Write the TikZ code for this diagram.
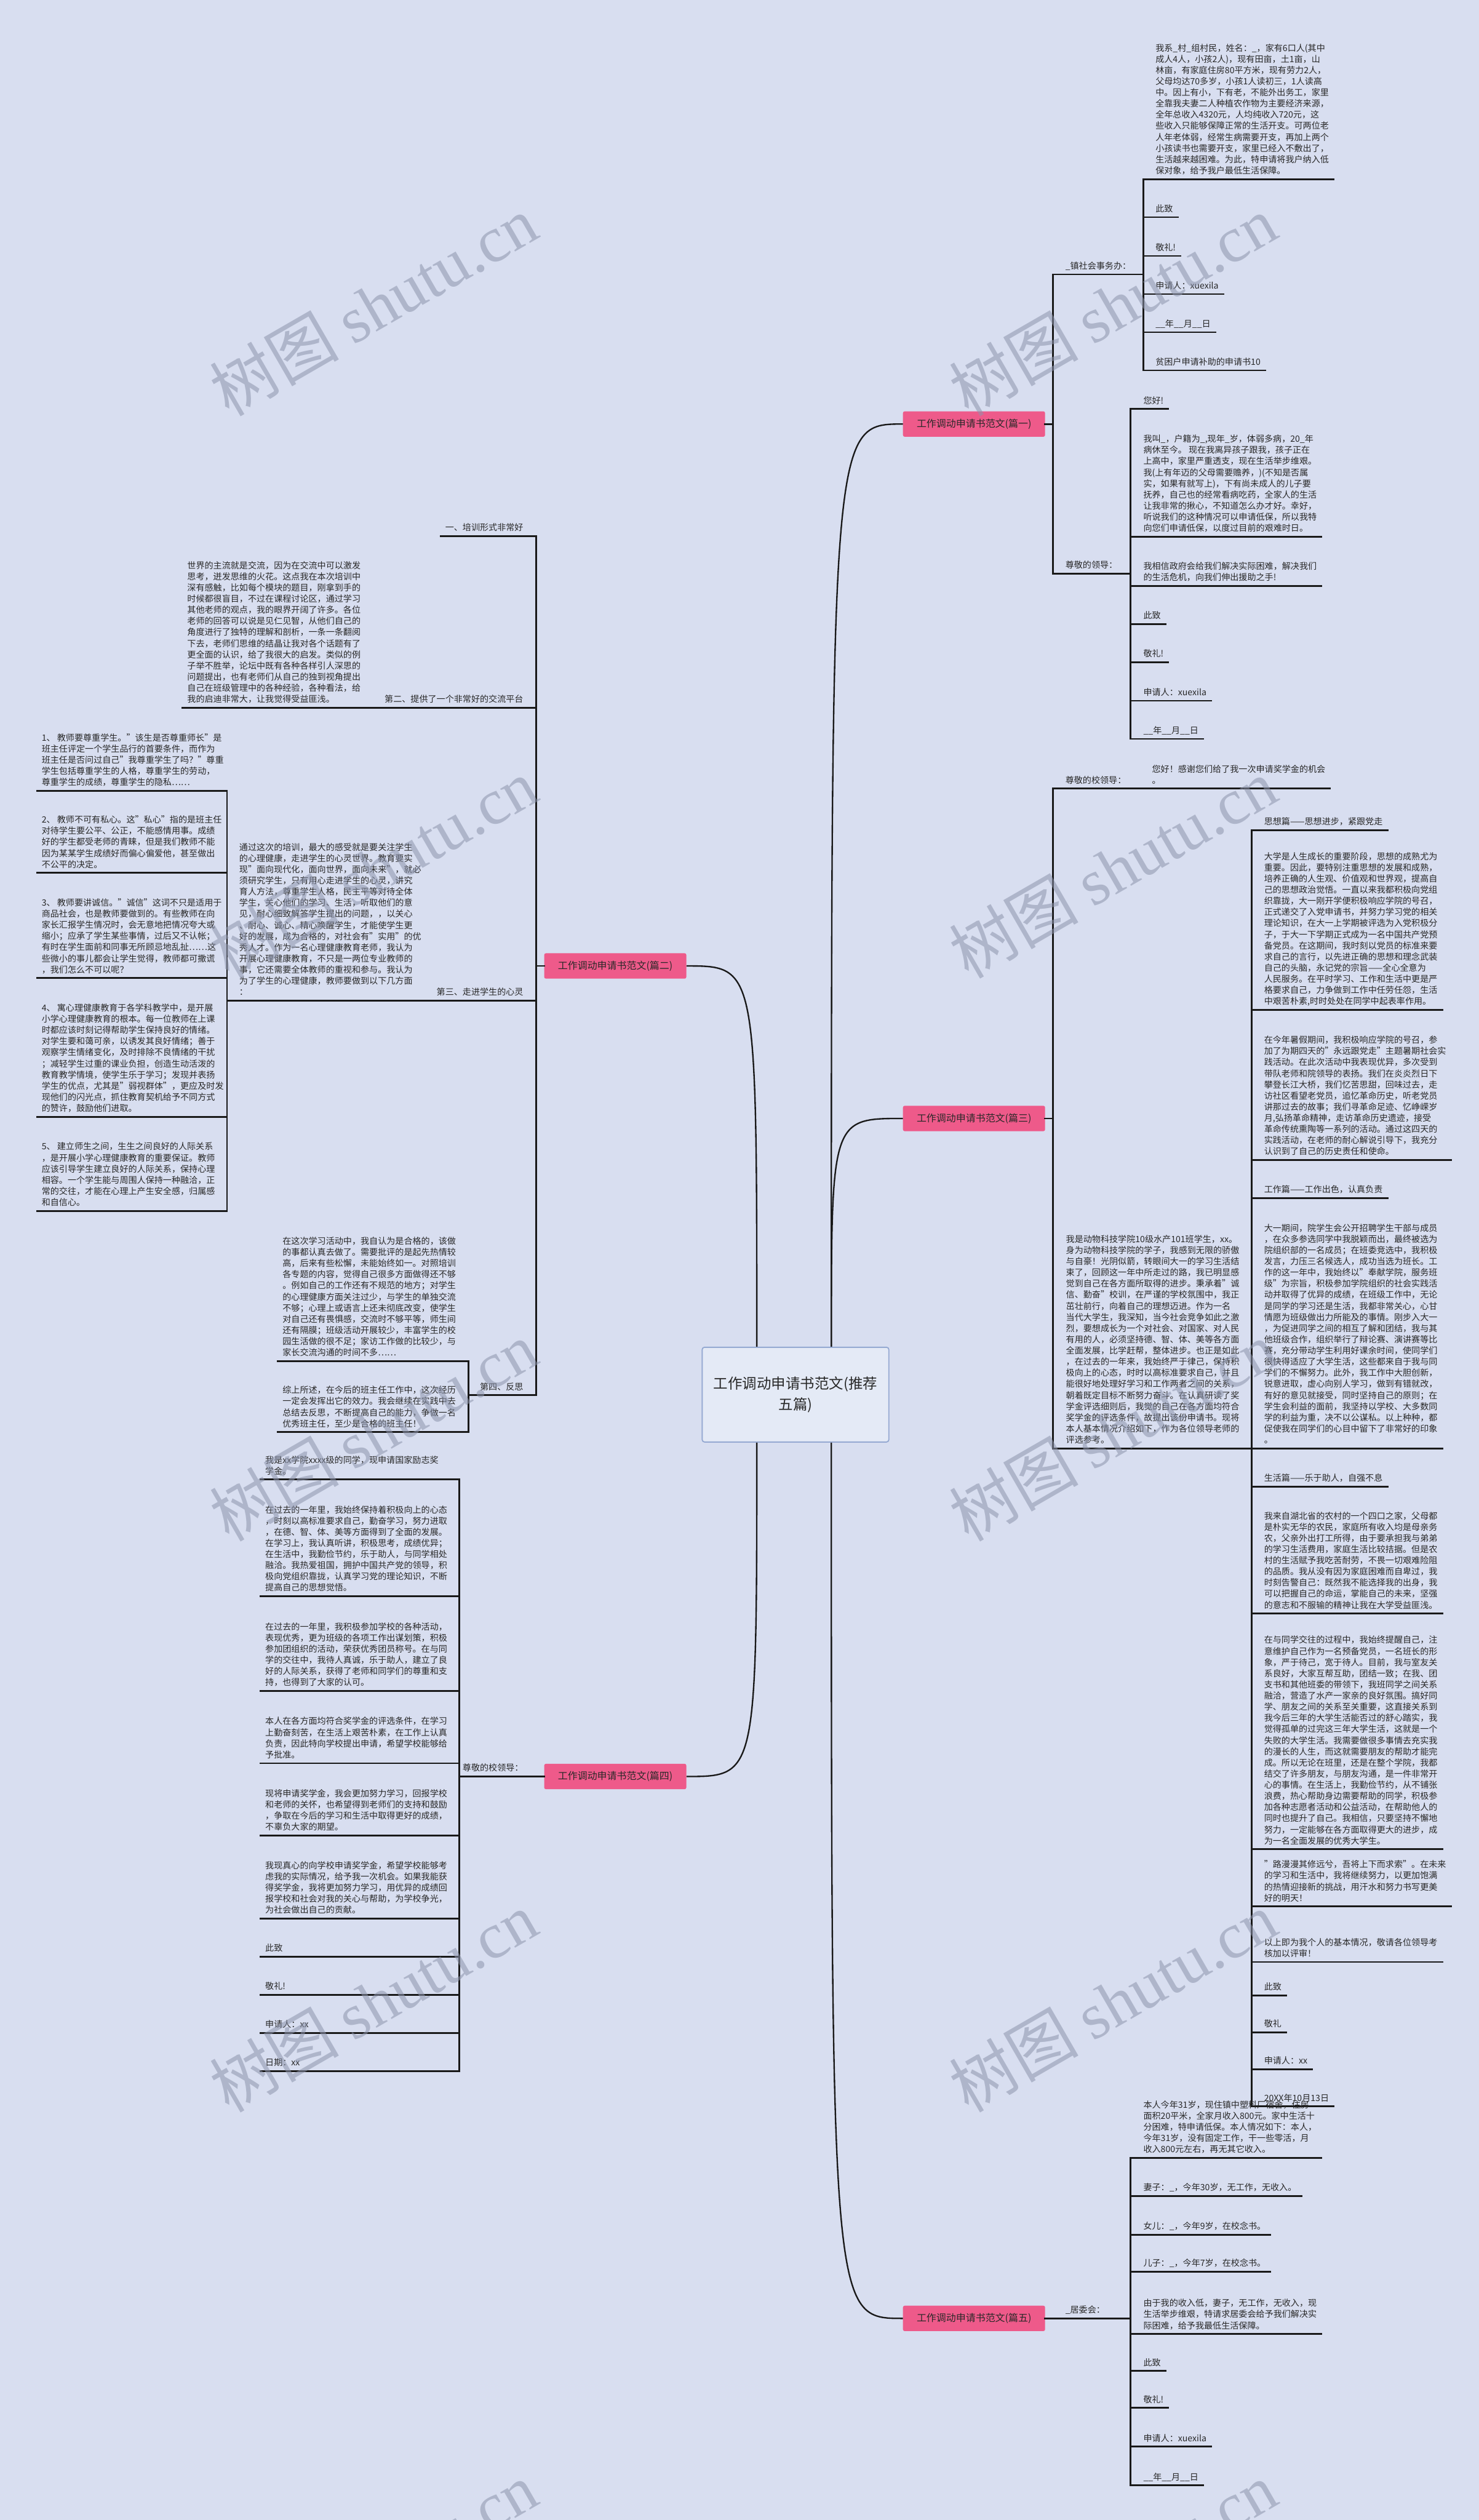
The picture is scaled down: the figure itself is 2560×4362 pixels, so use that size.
\documentclass[tikz,border=0pt]{standalone}
\usepackage{fontspec}
\setmainfont{Noto Sans CJK SC}
\newfontfamily\wmlat{Liberation Serif}
\newfontfamily\wmcjk{Noto Sans CJK SC}
\usetikzlibrary{calc}
\definecolor{bgc}{RGB}{216,222,240}
\definecolor{pinkc}{RGB}{238,90,138}
\definecolor{cfill}{RGB}{228,234,246}
\definecolor{cdraw}{RGB}{150,170,210}
\definecolor{txtc}{RGB}{40,40,40}
\definecolor{wmc}{RGB}{140,148,172}
\newcommand\tnode[4]{\node[txt] (#1) at (#2,#3-7) {#4};}
\newcommand\rnode[4]{\node[txt,anchor=south east] (#1) at (#2,#3-7) {#4};}
\newcommand\rul[2]{\draw[ul] ($(#2 |- #1.south)+(0,7)$) -- ($(#1.south east)+(8,7)$);}
\newcommand\lul[2]{\draw[ul] ($(#1.south west)+(-8,7)$) -- ($(#2 |- #1.south)+(0,7)$);}
\newcommand\brk[3]{\draw[ul] ($(#1 |- #2.south)+(0,7)$) -- ($(#1 |- #3.south)+(0,7)$);}
\newcommand\seg[3]{\draw[ul] ($(#1 |- #3.south)+(0,7)$) -- ($(#2 |- #3.south)+(0,7)$);}
\begin{document}
\begin{tikzpicture}[x=1pt,y=-1pt,
 txt/.style={inner sep=0pt,anchor=south west,align=left,font=\fontsize{15}{19.3}\selectfont,text=txtc,text depth=2pt},
 ul/.style={line width=3pt,draw=black!90,line cap=rect},
 link/.style={line width=2.5pt,draw=black!90},
 pinkbox/.style={fill=pinkc,rounded corners=3pt,inner sep=0pt,minimum width=246pt,minimum height=44pt,font=\fontsize{17}{20}\selectfont,text=txtc},
 mainbox/.style={fill=cfill,draw=cdraw,line width=2pt,rounded corners=4pt,minimum width=323pt,minimum height=164pt,align=center,font=\fontsize{25}{36}\selectfont,text=txtc},
 wm/.style={rotate=30,text=wmc,opacity=0.55,inner sep=0pt,font=\fontsize{112}{112}\selectfont}]
\fill[bgc] (0,0) rectangle (2560,4362);
\useasboundingbox (0,0) rectangle (2560,4362);
% bracket x positions
\coordinate (kR) at (1823,0);
\coordinate (kA) at (1979,0);
\coordinate (kB) at (1957,0);
\coordinate (kD) at (2167,0);
\coordinate (kE) at (1957,0);
\coordinate (kL) at (928,0);
\coordinate (kI) at (393,0);
\coordinate (kF) at (811,0);
\coordinate (kG) at (795,0);
% central and branches
\node[mainbox] (c) at (1377,2414) {工作调动申请书范文(推荐\\五篇)};
\node[pinkbox] (p1) at (1686,734) {工作调动申请书范文(篇一)};
\node[pinkbox] (p3) at (1686,1936) {工作调动申请书范文(篇三)};
\node[pinkbox] (p5) at (1686,4013) {工作调动申请书范文(篇五)};
\node[pinkbox] (p2) at (1065,1672) {工作调动申请书范文(篇二)};
\node[pinkbox] (p4) at (1065,3075) {工作调动申请书范文(篇四)};
\coordinate (cRT) at ($(c.north)+(62,0)$);
\coordinate (cLT) at ($(c.north)+(-67,0)$);
\coordinate (cRB) at ($(c.south)+(62,0)$);
\coordinate (cLB) at ($(c.south)+(-67,0)$);
\draw[link] (cRT) .. controls (cRT |- p1.west) and (cRT |- p1.west) .. (p1.west);
\draw[link] (cRT) .. controls (cRT |- p3.west) and (cRT |- p3.west) .. (p3.west);
\draw[link] (cRB) .. controls (cRB |- p5.west) and (cRB |- p5.west) .. (p5.west);
\draw[link] (cLT) .. controls (cLT |- p2.east) and (cLT |- p2.east) .. (p2.east);
\draw[link] (cLB) .. controls (cLB |- p4.east) and (cLB |- p4.east) .. (p4.east);
\draw[ul] (p1.east) -- (kR |- p1.east);
\draw[ul] (p3.east) -- (kR |- p3.east);
\draw[ul] (p5.east) -- (kR |- p5.east);
\draw[ul] (p2.west) -- (kL |- p2.west);
\draw[ul] (p4.west) -- (kL |- p4.west);
% ---------------- 篇一 ----------------
\tnode{l1a}{1844}{475}{\_镇社会事务办：}
\seg{kR}{kA}{l1a}
\tnode{l1b}{1844}{993}{尊敬的领导：}
\seg{kR}{kB}{l1b}
\brk{kR}{l1a}{l1b}
\tnode{a1}{2000}{310}{我系\_村\_组村民，姓名：\_，家有6口人(其中\\成人4人，小孩2人)，现有田亩，土1亩，山\\林亩，有家庭住房80平方米，现有劳力2人，\\父母均达70多岁，小孩1人读初三，1人读高\\中。因上有小，下有老，不能外出务工，家里\\全靠我夫妻二人种植农作物为主要经济来源，\\全年总收入4320元，人均纯收入720元，这\\些收入只能够保障正常的生活开支。可两位老\\人年老体弱，经常生病需要开支，再加上两个\\小孩读书也需要开支，家里已经入不敷出了，\\生活越来越困难。为此，特申请将我户纳入低\\保对象，给予我户最低生活保障。}
\tnode{a2}{2000}{376}{此致}
\tnode{a3}{2000}{443}{敬礼!}
\tnode{a4}{2000}{509}{申请人：xuexila}
\tnode{a5}{2000}{575}{\_\_年\_\_月\_\_日}
\tnode{a6}{2000}{641}{贫困户申请补助的申请书10}
\foreach \n in {a1,a2,a3,a4,a5,a6}{\rul{\n}{kA}}
\brk{kA}{a1}{a6}
\tnode{b1}{1979}{708}{您好!}
\tnode{b2}{1979}{929}{我叫\_，户籍为\_,现年\_岁，体弱多病，20\_年\\病休至今。 现在我离异孩子跟我，孩子正在\\上高中，家里严重透支，现在生活举步维艰。\\我(上有年迈的父母需要赡养，)(不知是否属\\实，如果有就写上)，下有尚未成人的儿子要\\抚养，自己也的经常看病吃药，全家人的生活\\让我非常的揪心，不知道怎么办才好。幸好，\\听说我们的这种情况可以申请低保，所以我特\\向您们申请低保，以度过目前的艰难时日。}
\tnode{b3}{1979}{1014}{我相信政府会给我们解决实际困难，解决我们\\的生活危机，向我们伸出援助之手!}
\tnode{b4}{1979}{1080}{此致}
\tnode{b5}{1979}{1146}{敬礼!}
\tnode{b6}{1979}{1213}{申请人：xuexila}
\tnode{b7}{1979}{1279}{\_\_年\_\_月\_\_日}
\foreach \n in {b1,b2,b3,b4,b5,b6,b7}{\rul{\n}{kB}}
\brk{kB}{b1}{b7}
% ---------------- 篇三 ----------------
\tnode{l3a}{1844}{1365}{尊敬的校领导：}
\tnode{c3a}{1994}{1365}{您好！感谢您们给了我一次申请奖学金的机会\\。}
\draw[ul] ($(kR |- l3a.south)+(0,7)$) -- ($(c3a.south east)+(8,7)$);
\tnode{c3b}{1845}{2507}{我是动物科技学院10级水产101班学生，xx。\\身为动物科技学院的学子，我感到无限的骄傲\\与自豪！光阴似箭，转眼间大一的学习生活结\\束了，回顾这一年中所走过的路，我已明显感\\觉到自己在各方面所取得的进步。秉承着"诚\\信、勤奋"校训，在严谨的学校氛围中，我正\\茁壮前行，向着自己的理想迈进。作为一名\\当代大学生，我深知，当今社会竞争如此之激\\烈，要想成长为一个对社会、对国家、对人民\\有用的人，必须坚持德、智、体、美等各方面\\全面发展，比学赶帮，整体进步。也正是如此\\，在过去的一年来，我始终严于律己，保持积\\极向上的心态，时时以高标准要求自己，并且\\能很好地处理好学习和工作两者之间的关系，\\朝着既定目标不断努力奋斗。在认真研读了奖\\学金评选细则后，我觉的自己在各方面均符合\\奖学金的评选条件，故提出该份申请书。现将\\本人基本情况介绍如下，作为各位领导老师的\\评选参考。}
\seg{kR}{kD}{c3b}
\brk{kR}{l3a}{c3b}
\tnode{d1}{2188}{1437}{思想篇——思想进步，紧跟党走}
\tnode{d2}{2188}{1748}{大学是人生成长的重要阶段，思想的成熟尤为\\重要。因此，要特别注重思想的发展和成熟，\\培养正确的人生观、价值观和世界观，提高自\\己的思想政治觉悟。一直以来我都积极向党组\\织靠拢，大一刚开学便积极响应学院的号召，\\正式递交了入党申请书，并努力学习党的相关\\理论知识，在大一上学期被评选为入党积极分\\子，于大一下学期正式成为一名中国共产党预\\备党员。在这期间，我时刻以党员的标准来要\\求自己的言行，以先进正确的思想和理念武装\\自己的头脑，永记党的宗旨——全心全意为\\人民服务。在平时学习、工作和生活中更是严\\格要求自己，力争做到工作中任劳任怨，生活\\中艰苦朴素,时时处处在同学中起表率作用。}
\tnode{d3}{2188}{2008}{在今年暑假期间，我积极响应学院的号召，参\\加了为期四天的"永远跟党走"主题暑期社会实\\践活动。在此次活动中我表现优异，多次受到\\带队老师和院领导的表扬。我们在炎炎烈日下\\攀登长江大桥，我们忆苦思甜，回味过去，走\\访社区看望老党员，追忆革命历史，听老党员\\讲那过去的故事；我们寻革命足迹、忆峥嵘岁\\月,弘扬革命精神，走访革命历史遗迹，接受\\革命传统熏陶等一系列的活动。通过这四天的\\实践活动，在老师的耐心解说引导下，我充分\\认识到了自己的历史责任和使命。}
\tnode{d4}{2188}{2074}{工作篇——工作出色，认真负责}
\tnode{d5}{2188}{2507}{大一期间，院学生会公开招聘学生干部与成员\\，在众多参选同学中我脱颖而出，最终被选为\\院组织部的一名成员；在班委竞选中，我积极\\发言，力压三名候选人，成功当选为班长。工\\作的这一年中，我始终以"奉献学院，服务班\\级"为宗旨，积极参加学院组织的社会实践活\\动并取得了优异的成绩，在班级工作中，无论\\是同学的学习还是生活，我都非常关心，心甘\\情愿为班级做出力所能及的事情。刚步入大一\\，为促进同学之间的相互了解和团结，我与其\\他班级合作，组织举行了辩论赛、演讲赛等比\\赛，充分带动学生利用好课余时间，使同学们\\很快得适应了大学生活，这些都来自于我与同\\学们的不懈努力。此外，我工作中大胆创新，\\锐意进取，虚心向别人学习，做到有错就改，\\有好的意见就接受，同时坚持自己的原则；在\\学生会利益的面前，我坚持以学校、大多数同\\学的利益为重，决不以公谋私。以上种种，都\\促使我在同学们的心目中留下了非常好的印象\\。}
\tnode{d6}{2188}{2573}{生活篇——乐于助人，自强不息}
\tnode{d7}{2188}{2793}{我来自湖北省的农村的一个四口之家，父母都\\是朴实无华的农民，家庭所有收入均是母亲务\\农，父亲外出打工所得，由于要承担我与弟弟\\的学习生活费用，家庭生活比较拮据。但是农\\村的生活赋予我吃苦耐劳，不畏一切艰难险阻\\的品质。我从没有因为家庭困难而自卑过，我\\时刻告警自己：既然我不能选择我的出身，我\\可以把握自己的命运，掌能自己的未来，坚强\\的意志和不服输的精神让我在大学受益匪浅。}
\tnode{d8}{2188}{3201}{在与同学交往的过程中，我始终提醒自己，注\\意维护自己作为一名预备党员，一名班长的形\\象，严于待己，宽于待人。目前，我与室友关\\系良好，大家互帮互助，团结一致；在我、团\\支书和其他班委的带领下，我班同学之间关系\\融洽，营造了水产一家亲的良好氛围。搞好同\\学、朋友之间的关系至关重要，这直接关系到\\我今后三年的大学生活能否过的舒心踏实，我\\觉得孤单的过完这三年大学生活，这就是一个\\失败的大学生活。我需要做很多事情去充实我\\的漫长的人生，而这就需要朋友的帮助才能完\\成。所以无论在班里，还是在整个学院，我都\\结交了许多朋友，与朋友沟通，是一件非常开\\心的事情。在生活上，我勤俭节约，从不铺张\\浪费，热心帮助身边需要帮助的同学，积极参\\加各种志愿者活动和公益活动，在帮助他人的\\同时也提升了自己。我相信，只要坚持不懈地\\努力，一定能够在各方面取得更大的进步，成\\为一名全面发展的优秀大学生。}
\tnode{d9}{2188}{3300}{"路漫漫其修远兮，吾将上下而求索"。在未来\\的学习和生活中，我将继续努力，以更加饱满\\的热情迎接新的挑战，用汗水和努力书写更美\\好的明天！}
\tnode{d10}{2188}{3396}{以上即为我个人的基本情况，敬请各位领导考\\核加以评审！}
\tnode{d11}{2188}{3454}{此致}
\tnode{d12}{2188}{3518}{敬礼}
\tnode{d13}{2188}{3582}{申请人：xx}
\tnode{d14}{2188}{3646}{20XX年10月13日}
\foreach \n in {d1,d2,d3,d4,d5,d6,d7,d8,d9,d10,d11,d12,d13,d14}{\rul{\n}{kD}}
\brk{kD}{d1}{d14}
% ---------------- 篇五 ----------------
\tnode{l5}{1844}{4013}{\_居委会：}
\seg{kR}{kE}{l5}
\tnode{e1}{1979}{3735}{本人今年31岁，现住镇中塑料厂宿舍，住房\\面积20平米，全家月收入800元。家中生活十\\分困难，特申请低保。本人情况如下：本人，\\今年31岁，没有固定工作，干一些零活，月\\收入800元左右，再无其它收入。}
\tnode{e2}{1979}{3801}{妻子：\_，今年30岁，无工作，无收入。}
\tnode{e3}{1979}{3868}{女儿：\_，今年9岁，在校念书。}
\tnode{e4}{1979}{3932}{儿子：\_，今年7岁，在校念书。}
\tnode{e5}{1979}{4040}{由于我的收入低，妻子，无工作，无收入，现\\生活举步维艰，特请求居委会给予我们解决实\\际困难，给予我最低生活保障。}
\tnode{e6}{1979}{4104}{此致}
\tnode{e7}{1979}{4168}{敬礼!}
\tnode{e8}{1979}{4235}{申请人：xuexila}
\tnode{e9}{1979}{4302}{\_\_年\_\_月\_\_日}
\foreach \n in {e1,e2,e3,e4,e5,e6,e7,e8,e9}{\rul{\n}{kE}}
\brk{kE}{e1}{e9}
% ---------------- 篇二 ----------------
\rnode{m1}{906}{928}{一、培训形式非常好}
\lul{m1}{kL}
\rnode{m2}{906}{1225}{第二、提供了一个非常好的交流平台}
\tnode{w1}{324}{1225}{世界的主流就是交流，因为在交流中可以激发\\思考，迸发思维的火花。这点我在本次培训中\\深有感触，比如每个模块的题目，刚拿到手的\\时候都很盲目，不过在课程讨论区，通过学习\\其他老师的观点，我的眼界开阔了许多。各位\\老师的回答可以说是见仁见智，从他们自己的\\角度进行了独特的理解和剖析，一条一条翻阅\\下去，老师们思维的结晶让我对各个话题有了\\更全面的认识，给了我很大的启发。类似的例\\子举不胜举，论坛中既有各种各样引人深思的\\问题提出，也有老师们从自己的独到视角提出\\自己在班级管理中的各种经验，各种看法，给\\我的启迪非常大，让我觉得受益匪浅。}
\lul{w1}{kL}
\rnode{m3}{906}{1732}{第三、走进学生的心灵}
\tnode{t1}{414}{1732}{通过这次的培训，最大的感受就是要关注学生\\的心理健康，走进学生的心灵世界。教育要实\\现"面向现代化，面向世界，面向未来"，就必\\须研究学生，只有用心走进学生的心灵，讲究\\育人方法，尊重学生人格，民主平等对待全体\\学生，关心他们的学习、生活，听取他们的意\\见，耐心细致解答学生提出的问题，，以关心\\、耐心、诚心、精心唤醒学生，才能使学生更\\好的发展，成为合格的，对社会有"实用"的优\\秀人才。作为一名心理健康教育老师，我认为\\开展心理健康教育，不只是一两位专业教师的\\事，它还需要全体教师的重视和参与。我认为\\为了学生的心理健康，教师要做到以下几方面\\：}
\seg{kI}{kL}{m3}
\tnode{i1}{72}{1369}{1、 教师要尊重学生。"该生是否尊重师长"是\\班主任评定一个学生品行的首要条件，而作为\\班主任是否问过自己"我尊重学生了吗？"尊重\\学生包括尊重学生的人格，尊重学生的劳动，\\尊重学生的成绩，尊重学生的隐私……}
\tnode{i2}{72}{1511}{2、 教师不可有私心。这"私心"指的是班主任\\对待学生要公平、公正，不能感情用事。成绩\\好的学生都受老师的青睐，但是我们教师不能\\因为某某学生成绩好而偏心偏爱他，甚至做出\\不公平的决定。}
\tnode{i3}{72}{1693}{3、 教师要讲诚信。"诚信"这词不只是适用于\\商品社会，也是教师要做到的。有些教师在向\\家长汇报学生情况时，会无意地把情况夸大或\\缩小；应承了学生某些事情，过后又不认帐；\\有时在学生面前和同事无所顾忌地乱扯……这\\些微小的事儿都会让学生觉得，教师都可撒谎\\，我们怎么不可以呢？}
\tnode{i4}{72}{1933}{4、 寓心理健康教育于各学科教学中，是开展\\小学心理健康教育的根本。每一位教师在上课\\时都应该时刻记得帮助学生保持良好的情绪。\\对学生要和蔼可亲，以诱发其良好情绪；善于\\观察学生情绪变化，及时排除不良情绪的干扰\\；减轻学生过重的课业负担，创造生动活泼的\\教育教学情境，使学生乐于学习；发现并表扬\\学生的优点，尤其是"弱视群体"，更应及时发\\现他们的闪光点，抓住教育契机给予不同方式\\的赞许，鼓励他们进取。}
\tnode{i5}{72}{2096}{5、 建立师生之间，生生之间良好的人际关系\\，是开展小学心理健康教育的重要保证。教师\\应该引导学生建立良好的人际关系，保持心理\\相容。一个学生能与周围人保持一种融洽，正\\常的交往，才能在心理上产生安全感，归属感\\和自信心。}
\foreach \n in {i1,i2,i3,i4,i5}{\lul{\n}{kI}}
\brk{kI}{i1}{i5}
\rnode{m4}{906}{2415}{第四、反思}
\seg{kF}{kL}{m4}
\tnode{f1}{489}{2356}{在这次学习活动中，我自认为是合格的，该做\\的事都认真去做了。需要批评的是起先热情较\\高，后来有些松懈，未能始终如一。对照培训\\各专题的内容，觉得自己很多方面做得还不够\\。例如自己的工作还有不规范的地方；对学生\\的心理健康方面关注过少，与学生的单独交流\\不够；心理上或语言上还未彻底改变，使学生\\对自己还有畏惧感，交流时不够平等，师生间\\还有隔膜；班级活动开展较少，丰富学生的校\\园生活做的很不足；家访工作做的比较少，与\\家长交流沟通的时间不多……}
\tnode{f2}{489}{2479}{综上所述，在今后的班主任工作中，这次经历\\一定会发挥出它的效力。我会继续在实践中去\\总结去反思，不断提高自己的能力，争做一名\\优秀班主任，至少是合格的班主任！}
\lul{f1}{kF}
\lul{f2}{kF}
\brk{kF}{f1}{f2}
\brk{kL}{m1}{m4}
% ---------------- 篇四 ----------------
\rnode{l4}{906}{3075}{尊敬的校领导：}
\seg{kG}{kL}{l4}
\tnode{g1}{459}{2561}{我是xx学院xxxx级的同学，现申请国家励志奖\\学金。}
\tnode{g2}{459}{2763}{在过去的一年里，我始终保持着积极向上的心态\\，时刻以高标准要求自己，勤奋学习，努力进取\\，在德、智、体、美等方面得到了全面的发展。\\在学习上，我认真听讲，积极思考，成绩优异；\\在生活中，我勤俭节约，乐于助人，与同学相处\\融洽。我热爱祖国，拥护中国共产党的领导，积\\极向党组织靠拢，认真学习党的理论知识，不断\\提高自己的思想觉悟。}
\tnode{g3}{459}{2927}{在过去的一年里，我积极参加学校的各种活动，\\表现优秀，更为班级的各项工作出谋划策，积极\\参加团组织的活动，荣获优秀团员称号。在与同\\学的交往中，我待人真诚，乐于助人，建立了良\\好的人际关系，获得了老师和同学们的尊重和支\\持，也得到了大家的认可。}
\tnode{g4}{459}{3052}{本人在各方面均符合奖学金的评选条件，在学习\\上勤奋刻苦，在生活上艰苦朴素，在工作上认真\\负责，因此特向学校提出申请，希望学校能够给\\予批准。}
\tnode{g5}{459}{3177}{现将申请奖学金，我会更加努力学习，回报学校\\和老师的关怀，也希望得到老师们的支持和鼓励\\，争取在今后的学习和生活中取得更好的成绩，\\不辜负大家的期望。}
\tnode{g6}{459}{3321}{我现真心的向学校申请奖学金，希望学校能够考\\虑我的实际情况，给予我一次机会。如果我能获\\得奖学金，我将更加努力学习，用优异的成绩回\\报学校和社会对我的关心与帮助，为学校争光，\\为社会做出自己的贡献。}
\tnode{g7}{459}{3387}{此致}
\tnode{g8}{459}{3453}{敬礼!}
\tnode{g9}{459}{3519}{申请人：xx}
\tnode{g10}{459}{3585}{日期：xx}
\foreach \n in {g1,g2,g3,g4,g5,g6,g7,g8,g9,g10}{\lul{\n}{kG}}
\brk{kG}{g1}{g10}
% ---------------- watermarks ----------------
\foreach \i/\px/\py in {1/646/529,2/1926/529,3/646/1503,4/1926/1503,5/646/2477,6/1926/2477,7/646/3465,8/1926/3465,9/646/4452,10/1926/4452}{
 \node[wm] (wm\i) at (\px,\py) {\wmcjk 树图\ {\wmlat shutu.cn}};
}
\end{tikzpicture}
\end{document}
